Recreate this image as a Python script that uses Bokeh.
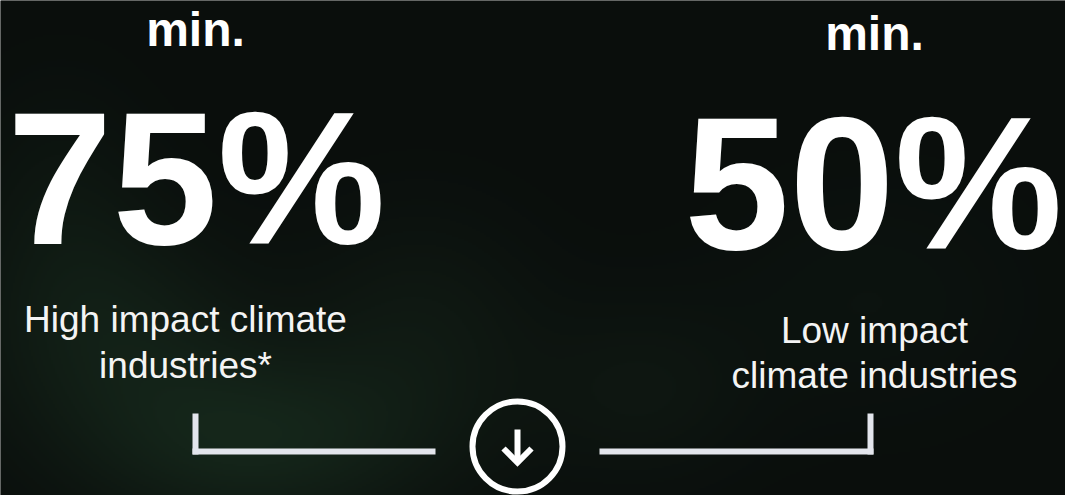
import numpy as np
from bokeh.plotting import figure
from bokeh.models import Range1d, ColumnDataSource
from bokeh.core.properties import value
from bokeh.embed import file_html
from bokeh.resources import INLINE

# ---- data ----
prefixes = ["min.", "min."]
percentages = [75, 50]
desc_line1 = ["High impact climate", "Low impact"]
desc_line2 = ["industries*", "climate industries"]

W, H = 1065, 495
BG = "#0b0f0d"

p = figure(width=W, height=H, x_range=Range1d(0, W), y_range=Range1d(H, 0),
           output_backend="svg", toolbar_location=None, min_border=0,
           x_axis_type=None, y_axis_type=None)
p.grid.visible = False
p.outline_line_color = None
p.background_fill_color = BG
p.border_fill_color = BG

# ---- background: dark with soft green glows ----
sc = 2
hh, ww = H // sc + 1, W // sc + 1
yy, xx = np.mgrid[0:hh, 0:ww].astype(float) * sc
r = np.full((hh, ww), 10.0)
g = np.full((hh, ww), 14.0)
b = np.full((hh, ww), 12.0)
glows = [  # (cx, cy, sx, sy, dr, dg, db)
    (255, 440, 170, 90, 10, 22, 13),
    (110, 330, 140, 110, 7, 15, 9),
    (420, 330, 120, 120, 5, 10, 6),
    (640, 390, 110, 90, 4, 8, 5),
    (870, 300, 160, 120, 2, 5, 3),
    (60, 200, 90, 120, 3, 7, 4),
]
for cx, cy, sx, sy, dr, dg, db in glows:
    f = np.exp(-(((xx - cx) / sx) ** 2 + ((yy - cy) / sy) ** 2))
    r += dr * f
    g += dg * f
    b += db * f
img = np.zeros((hh, ww), dtype=np.uint32)
view = img.view(dtype=np.uint8).reshape((hh, ww, 4))
view[:, :, 0] = np.clip(r, 0, 255).astype(np.uint8)
view[:, :, 1] = np.clip(g, 0, 255).astype(np.uint8)
view[:, :, 2] = np.clip(b, 0, 255).astype(np.uint8)
view[:, :, 3] = 255
p.image_rgba(image=[img], x=0, y=0, dw=ww * sc, dh=hh * sc)

# ---- texts ----
K = 0.345  # baseline correction factor (fraction of font size)


def base(ys, size):
    return [y - K * size for y in ys]


src_min = ColumnDataSource(dict(x=[195, 874], y=base([46, 50], 48), t=prefixes))
p.text(x="x", y="y", text="t", source=src_min, text_font=value("Liberation Sans"),
       text_font_style="bold", text_font_size="48px", text_align="center",
       text_baseline="alphabetic", text_color="white")

BIG = 189
src_big = ColumnDataSource(dict(x=[196, 873], y=base([243, 248], BIG),
                                t=[f"{v}%" for v in percentages]))
p.text(x="x", y="y", text="t", source=src_big, text_font=value("Liberation Sans"),
       text_font_style="bold", text_font_size=f"{BIG}px", text_align="center",
       text_baseline="alphabetic", text_color="white")

src_d1 = ColumnDataSource(dict(x=[185, 874], y=base([332, 343], 37), t=desc_line1))
p.text(x="x", y="y", text="t", source=src_d1, text_font=value("Liberation Sans"),
       text_font_size="37px", text_align="center",
       text_baseline="alphabetic", text_color="#f4f4f4")
src_d2 = ColumnDataSource(dict(x=[185, 874], y=base([378, 388], 37), t=desc_line2))
p.text(x="x", y="y", text="t", source=src_d2, text_font=value("Liberation Sans"),
       text_font_size="37px", text_align="center",
       text_baseline="alphabetic", text_color="#f4f4f4")

# ---- brackets ----
LC = "#e3e5ec"
p.quad(left=[192, 192, 599, 867], right=[198, 435, 873, 873],
       top=[413, 448, 448, 413], bottom=[454, 454, 454, 454],
       fill_color=LC, line_color=None)

# ---- circle with down arrow ----
p.circle(x=[517], y=[446], radius=45, fill_color=None, line_color="white", line_width=6)
p.segment(x0=[517], y0=[429], x1=[517], y1=[460], line_color="white", line_width=6)
p.line(x=[503, 517, 531], y=[448, 462, 448], line_color="white", line_width=6,
       line_join="miter")

html = file_html(p, INLINE)
html = html.replace("<body>", '<body style="background:%s">' % BG, 1)
open("out.html", "w").write(html)
